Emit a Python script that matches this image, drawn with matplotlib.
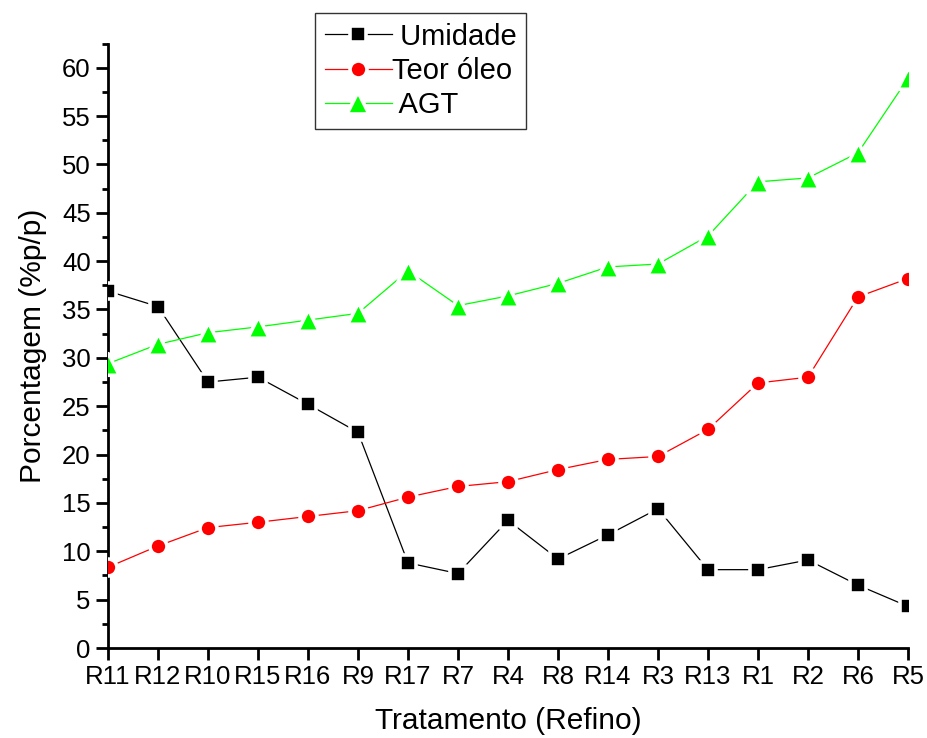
import matplotlib
matplotlib.use("Agg")
import matplotlib.pyplot as plt
from matplotlib.lines import Line2D
from matplotlib.ticker import MultipleLocator

plt.rcParams['font.family'] = ['Liberation Sans', 'DejaVu Sans']

tratamentos = ["R11", "R12", "R10", "R15", "R16", "R9", "R17", "R7", "R4",
               "R8", "R14", "R3", "R13", "R1", "R2", "R6", "R5"]
umidade = [36.9, 35.3, 27.5, 28.0, 25.2, 22.3, 8.8, 7.7, 13.2,
           9.2, 11.7, 14.4, 8.1, 8.1, 9.1, 6.5, 4.3]
teor_oleo = [8.35, 10.55, 12.45, 13.0, 13.6, 14.2, 15.6, 16.7, 17.2,
             18.45, 19.5, 19.8, 22.6, 27.4, 28.0, 36.3, 38.2]
agt = [29.4, 31.4, 32.6, 33.2, 33.9, 34.6, 39.0, 35.4, 36.4,
       37.7, 39.4, 39.7, 42.6, 48.2, 48.6, 51.2, 58.9]

series = [
    (umidade, " Umidade", "#000000", "s", 11.5),
    (teor_oleo, "Teor óleo", "#ff0000", "o", 12.2),
    (agt, " AGT", "#00ff00", "^", 15.5),
]
edge_w = 2.6

fig = plt.figure(figsize=(9.28, 7.38), dpi=100)
ax = fig.add_axes([108 / 928, 1 - 648 / 738, 800 / 928, (648 - 43.5) / 738])

x = list(range(len(tratamentos)))
handles = []
for vals, label, color, marker, ms in series:
    ax.plot(x, vals, color=color, lw=0.9, zorder=2)
    # markers as a collection so they are cut off cleanly at the axes edges
    ax.scatter(x, vals, s=ms ** 2, marker=marker, c=color,
               edgecolors="white", linewidths=edge_w, zorder=3, clip_on=True)
    handles.append(Line2D([], [], color=color, lw=0.9, marker=marker,
                          markersize=ms, markerfacecolor=color,
                          markeredgecolor="white", markeredgewidth=edge_w,
                          label=label))

ax.set_xlim(0, len(tratamentos) - 1)
ax.set_ylim(0, 62.5)
ax.set_xticks(x)
ax.set_xticklabels(tratamentos)
ax.yaxis.set_major_locator(MultipleLocator(5))
ax.yaxis.set_minor_locator(MultipleLocator(2.5))

for side in ("top", "right"):
    ax.spines[side].set_visible(False)
for side in ("left", "bottom"):
    ax.spines[side].set_linewidth(2.0)

ax.tick_params(axis="both", which="major", direction="out", length=8.5,
               width=2.0, labelsize=18.5, pad=4, colors="black")
ax.tick_params(axis="y", which="minor", direction="out", length=4.5, width=2.0)

ax.set_xlabel("Tratamento (Refino)", fontsize=21.5, labelpad=13)
ax.set_ylabel("Porcentagem (%p/p)", fontsize=21.5, labelpad=11)

leg = fig.legend(handles=handles, loc="upper left",
                 bbox_to_anchor=(315 / 928, 1 - 13 / 738),
                 fontsize=21, frameon=True, fancybox=False, shadow=False,
                 handlelength=2.3, handletextpad=0.0, labelspacing=0.21,
                 borderpad=0.33, borderaxespad=0)
leg.get_frame().set_edgecolor("black")
leg.get_frame().set_linewidth(1.0)

fig.savefig("out.png", dpi=100)
